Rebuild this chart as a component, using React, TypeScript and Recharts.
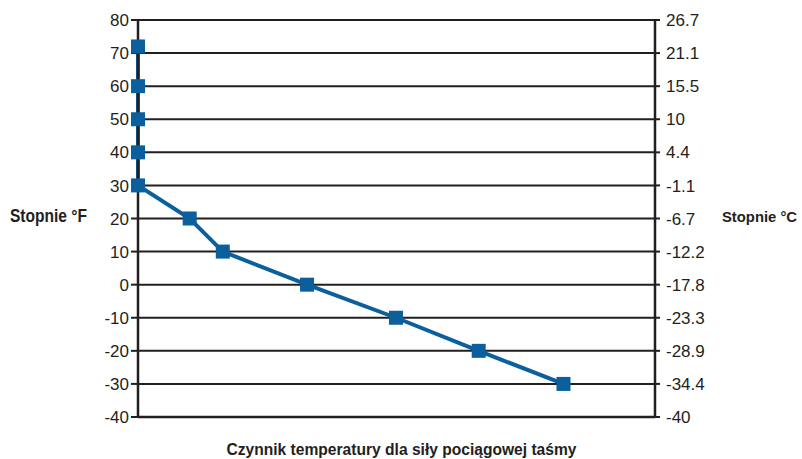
import React from 'react';
import { LineChart, Line, XAxis, YAxis, CartesianGrid, Label } from 'recharts';

const fahrenheit = [72, 60, 50, 40, 30, 20, 10, 0, -10, -20, -30];
const factor = [0, 0, 0, 0, 0, 0.1, 0.164, 0.327, 0.499, 0.659, 0.823];
const fTicks = [-40, -30, -20, -10, 0, 10, 20, 30, 40, 50, 60, 70, 80];
const cLabels = ['-40', '-34.4', '-28.9', '-23.3', '-17.8', '-12.2', '-6.7', '-1.1', '4.4', '10', '15.5', '21.1', '26.7'];
const xTitle = 'Czynnik temperatury dla siły pociągowej taśmy';
const leftTitle = 'Stopnie °F';
const rightTitle = 'Stopnie °C';

const data = fahrenheit.map((f, i) => ({ x: factor[i], f }));

const BLUE = '#0b5f9c';
const INK = '#231f20';
const FONT = 'Liberation Sans, Arial, Helvetica, sans-serif';

const SquareDot = (props: any) => {
  const { cx, cy, index } = props;
  if (cx == null || cy == null) return null;
  return <rect key={`d${index}`} x={cx - 7} y={cy - 7} width={14} height={14} fill={BLUE} />;
};

const LeftTick = (props: any) => {
  const { x, y, payload } = props;
  return (
    <text x={x} y={y} dy="0.36em" textAnchor="end" fontFamily={FONT} fontSize={17} fill={INK}>
      {payload.value}
    </text>
  );
};

const RightTick = (props: any) => {
  const { x, y, payload } = props;
  return (
    <text x={x} y={y} dy="0.36em" textAnchor="start" fontFamily={FONT} fontSize={17} fill={INK}>
      {cLabels[fTicks.indexOf(payload.value)]}
    </text>
  );
};

const LeftTitle = (props: any) => {
  const vb = props.viewBox || {};
  return (
    <text
      x={vb.x + 10}
      y={vb.y + vb.height / 2 + 3.5}
      fontFamily={FONT}
      fontWeight={700}
      fontSize={17.5}
      fill={INK}
      textLength={77}
      lengthAdjust="spacingAndGlyphs"
    >
      {leftTitle}
    </text>
  );
};

const RightTitle = (props: any) => {
  const vb = props.viewBox || {};
  return (
    <text
      x={vb.x + 67}
      y={vb.y + vb.height / 2 + 3.5}
      fontFamily={FONT}
      fontWeight={700}
      fontSize={15.5}
      fill={INK}
      textLength={75}
      lengthAdjust="spacingAndGlyphs"
    >
      {rightTitle}
    </text>
  );
};

const BottomTitle = (props: any) => {
  const vb = props.viewBox || {};
  return (
    <text
      x={vb.x + vb.width / 2 - 170}
      y={vb.y + 38}
      fontFamily={FONT}
      fontWeight={700}
      fontSize={17}
      fill={INK}
      textLength={350}
      lengthAdjust="spacingAndGlyphs"
    >
      {xTitle}
    </text>
  );
};

export default function App() {
  return (
    <div style={{ position: 'absolute', left: 0, top: 0, width: 802, height: 459, background: '#fff' }}>
      <LineChart width={802} height={459} data={data} margin={{ top: 20, right: 0, left: 0, bottom: 2 }}>
        <CartesianGrid yAxisId="left" vertical={false} stroke={INK} strokeWidth={2} />
        <XAxis
          type="number"
          dataKey="x"
          domain={[0, 1]}
          tick={false}
          tickLine={false}
          height={40}
          axisLine={{ stroke: INK, strokeWidth: 2.5 }}
        >
          <Label content={<BottomTitle />} />
        </XAxis>
        <YAxis
          yAxisId="left"
          type="number"
          domain={[-40, 80]}
          ticks={fTicks}
          interval={0}
          width={138}
          tick={<LeftTick />}
          tickSize={7}
          tickMargin={2}
          axisLine={{ stroke: INK, strokeWidth: 2.5 }}
          tickLine={{ stroke: INK, strokeWidth: 2 }}
        >
          <Label content={<LeftTitle />} />
        </YAxis>
        <YAxis
          yAxisId="right"
          orientation="right"
          type="number"
          domain={[-40, 80]}
          ticks={fTicks}
          interval={0}
          width={147}
          tick={<RightTick />}
          tickSize={5}
          tickMargin={6}
          axisLine={{ stroke: INK, strokeWidth: 2.5 }}
          tickLine={{ stroke: INK, strokeWidth: 2 }}
        >
          <Label content={<RightTitle />} />
        </YAxis>
        <Line
          yAxisId="right"
          type="linear"
          dataKey="f"
          stroke="none"
          dot={false}
          activeDot={false}
          legendType="none"
          isAnimationActive={false}
        />
        <Line
          yAxisId="left"
          type="linear"
          dataKey="f"
          stroke={BLUE}
          strokeWidth={4}
          dot={<SquareDot />}
          activeDot={false}
          isAnimationActive={false}
        />
      </LineChart>
    </div>
  );
}
